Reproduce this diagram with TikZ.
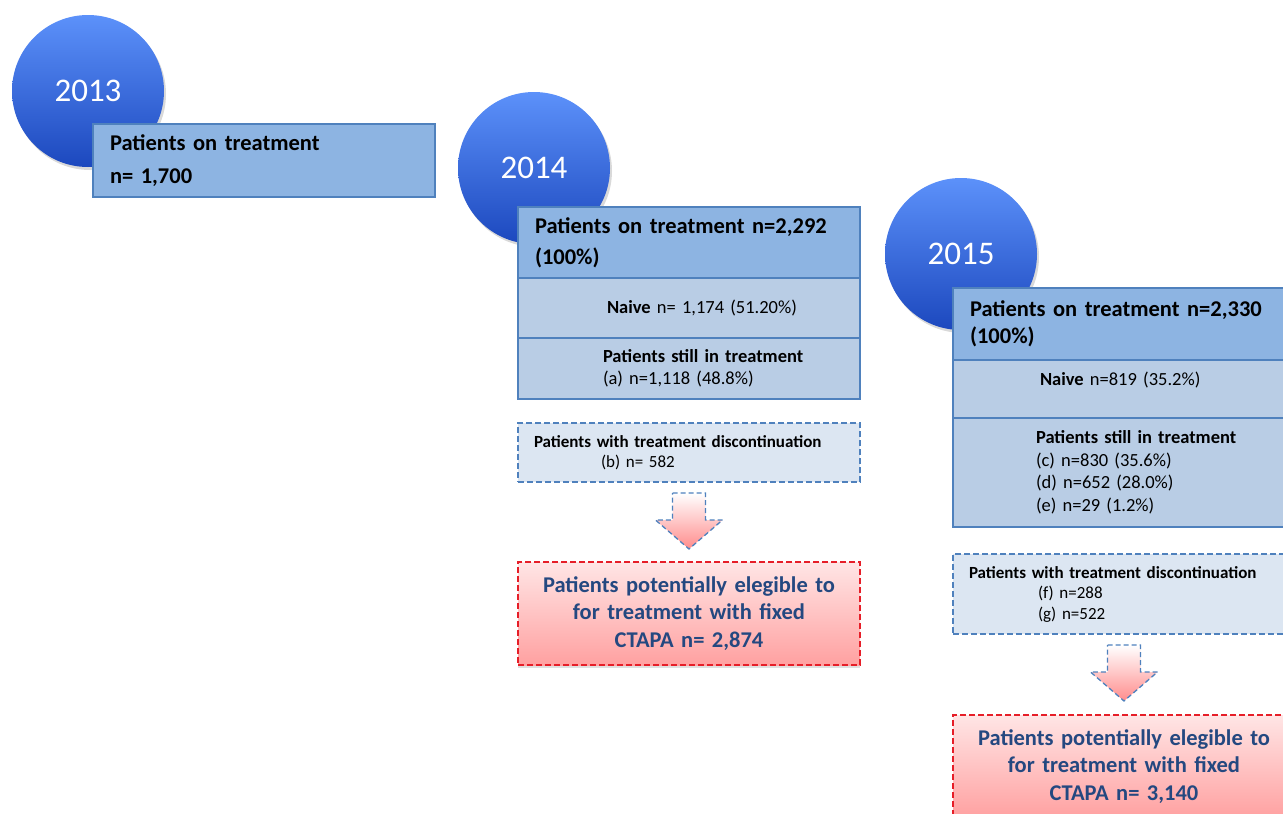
\documentclass[tikz,border=0pt]{standalone}
\usepackage{fontspec}
\setmainfont{Carlito}
\usetikzlibrary{calc}
\usetikzlibrary{positioning}
\usetikzlibrary{shadows}

\definecolor{circtop}{RGB}{92,145,250}
\definecolor{circbot}{RGB}{28,72,190}
\definecolor{headblue}{RGB}{141,180,226}
\definecolor{rowblue}{RGB}{185,205,229}
\definecolor{lineblue}{RGB}{79,129,189}
\definecolor{discblue}{RGB}{220,230,242}
\definecolor{eligred}{RGB}{230,30,40}
\definecolor{eligtext}{RGB}{36,72,128}

\tikzset{
  year/.style={circle, minimum size=152pt, inner sep=0pt, text=white,
    top color=circtop, bottom color=circbot,
    drop shadow={opacity=0.3, shadow xshift=2pt, shadow yshift=-3pt},
    font=\fontsize{33}{40}\selectfont},
  headbox/.style={draw=lineblue, line width=1.6pt, fill=headblue, outer sep=0pt,
    minimum width=342pt, text width=308pt, inner xsep=17pt, align=left,
    font=\bfseries\fontsize{22.5}{27.5}\selectfont},
  rowbox/.style={draw=lineblue, line width=1.6pt, fill=rowblue, outer sep=0pt,
    minimum width=342pt, text width=308pt, inner xsep=17pt, align=left,
    font=\fontsize{18.5}{22.5}\selectfont},
  discbox/.style={draw=lineblue, line width=1.3pt, dash pattern=on 6pt off 3pt,
    fill=discblue, outer sep=0pt, minimum width=342pt, text width=310pt,
    inner xsep=16pt, align=left, font=\fontsize{17}{20.5}\selectfont},
  eligbox/.style={draw=eligred, line width=1.4pt, dash pattern=on 6pt off 3pt,
    top color=red!10, bottom color=red!37, outer sep=0pt,
    drop shadow={opacity=0.25, shadow xshift=0pt, shadow yshift=-3pt},
    minimum width=342pt, text width=320pt, align=center, text=eligtext,
    font=\bfseries\fontsize{22.5}{27.5}\selectfont},
  downarrow/.style={draw=lineblue, line width=1.3pt, dash pattern=on 5pt off 3pt,
    top color=white, middle color=red!22, bottom color=red!45}
}

% block arrow hanging under a discontinuation box
\newcommand{\blockarrow}[1]{%
  \path[downarrow] ($(#1.south)+(-16.5,11)$) -- ++(33,0) -- ++(0,27) -- ++(17,0)
    -- ++(-33.5,29) -- ++(-33.5,-29) -- ++(17,0) -- cycle;}
\newcommand{\ind}[1]{\hspace*{#1pt}}

\begin{document}
\begin{tikzpicture}[x=1pt, y=-1pt]
\path[use as bounding box] (0,0) rectangle (1283,814);
\clip (0,0) rectangle (1283,814);

% 2013
\node[year] (Year2013) at (88,91) {2013};
\node[headbox, anchor=north west, minimum height=73pt,
  font=\bfseries\fontsize{22.5}{33}\selectfont] (Treat2013) at (93,124)
  {Patients on treatment\\n= 1,700};

% 2014
\node[year] (Year2014) at (534,168) {2014};
\node[headbox, anchor=north west, minimum height=71pt,
  font=\bfseries\fontsize{22.5}{31}\selectfont] (Head2014) at (518,207)
  {Patients on treatment n=2,292\\(100\%)};
\node[rowbox, below=0pt of Head2014, minimum height=60pt] (Naive2014)
  {\ind{72}\textbf{Naive} n= 1,174 (51.20\%)};
\node[rowbox, below=0pt of Naive2014, minimum height=61pt] (Still2014)
  {\ind{68}\textbf{Patients still in treatment}\\\ind{68}(a) n=1,118 (48.8\%)};

\node[discbox, anchor=north west, minimum height=59pt] (Disc2014) at (518,423)
  {\textbf{Patients with treatment discontinuation}\\\ind{67}(b) n= 582};
\node[eligbox, anchor=north west, minimum height=103pt] (Elig2014) at (518,562)
  {Patients potentially elegible to\\for treatment with fixed\\CTAPA n= 2,874};
\blockarrow{Disc2014}

% 2015
\node[year] (Year2015) at (961,254) {2015};
\node[headbox, anchor=north west, minimum height=72pt, inner xsep=14pt] (Head2015) at (953,288)
  {Patients on treatment n=2,330\\(100\%)};
\node[rowbox, below=0pt of Head2015, minimum height=58pt, text depth=20pt] (Naive2015)
  {\ind{70}\textbf{Naive} n=819 (35.2\%)};
\node[rowbox, below=0pt of Naive2015, minimum height=109pt] (Still2015)
  {\ind{66}\textbf{Patients still in treatment}\\\ind{66}(c) n=830 (35.6\%)\\
   \ind{66}(d) n=652 (28.0\%)\\\ind{66}(e) n=29 (1.2\%)};

\node[discbox, anchor=north west, minimum height=80pt, inner xsep=13pt] (Disc2015) at (953,554)
  {\textbf{Patients with treatment discontinuation}\\\ind{69}(f) n=288\\\ind{69}(g) n=522};
\node[eligbox, anchor=north west, minimum height=103pt] (Elig2015) at (953,715)
  {Patients potentially elegible to\\for treatment with fixed\\CTAPA n= 3,140};
\blockarrow{Disc2015}

\end{tikzpicture}
\end{document}
